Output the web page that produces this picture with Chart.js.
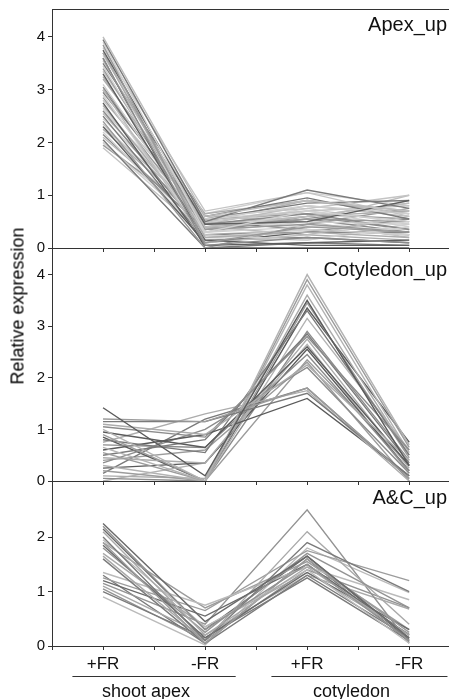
<!DOCTYPE html>
<html lang="en">
<head>
<meta charset="utf-8">
<title>Relative expression</title>
<script src="https://cdn.jsdelivr.net/npm/chart.js@4.4.1/dist/chart.umd.min.js"></script>
<style>
html, body { margin: 0; padding: 0; background: #fff; }
#wrap { position: relative; width: 449px; height: 699px; overflow: hidden; font-family: "Liberation Sans", Arial, sans-serif; }
canvas { position: absolute; left: 0; }
#ylab { position: absolute; left: 18px; top: 306px; transform: translate(-50%, -50%) rotate(-90deg); font-size: 18px; white-space: nowrap; color: #000; }
</style>
</head>
<body>
<div id="wrap">
  <canvas id="c1" width="449" height="260" style="top:0"></canvas>
  <canvas id="c2" width="449" height="245" style="top:248px"></canvas>
  <canvas id="c3" width="449" height="218" style="top:481px"></canvas>
  <div id="ylab">Relative expression</div>
</div>
<script>
// sample positions on the x axis, and their labels
const xPos = [1, 3, 5, 7];
const conditions = ['+FR', '-FR', '+FR', '-FR'];
const groupLabels = ['shoot apex', 'cotyledon'];
const groupSpans = [[0.4, 3.6], [4.3, 7.75]];

// each row: apex +FR, apex -FR, cotyledon +FR, cotyledon -FR
const apexUp = [
  [4.0, 0.6, 0.9, 0.7], [3.95, 0.5, 1.1, 0.75], [3.9, 0.3, 0.7, 0.5], [3.85, 0.1, 0.4, 0.3],
  [3.8, 0.7, 1.05, 0.6], [3.75, 0.45, 0.5, 0.9], [3.7, 0.2, 0.3, 0.2], [3.65, 0.55, 0.8, 0.65],
  [3.6, 0.05, 0.2, 0.1], [3.55, 0.4, 0.6, 0.85], [3.5, 0.6, 0.95, 0.55], [3.45, 0.25, 0.15, 0.4],
  [3.4, 0.35, 0.45, 0.3], [3.35, 0.5, 0.7, 0.8], [3.3, 0.15, 0.05, 0.05], [3.2, 0.65, 0.9, 0.7],
  [3.1, 0.3, 0.5, 0.45], [3.05, 0.45, 0.65, 0.35], [3.0, 0.1, 0.25, 0.6], [2.95, 0.55, 0.85, 0.9],
  [2.9, 0.2, 0.35, 0.25], [2.85, 0.4, 0.55, 0.5], [2.8, 0.6, 0.75, 1.0], [2.75, 0.05, 0.1, 0.15],
  [2.7, 0.35, 0.6, 0.7], [2.65, 0.5, 0.4, 0.35], [2.6, 0.25, 0.3, 0.55], [2.55, 0.45, 0.8, 0.6],
  [2.5, 0.15, 0.2, 0.1], [2.45, 0.55, 0.7, 0.4], [2.4, 0.0, 0.45, 0.75], [2.35, 0.4, 0.5, 0.2],
  [2.3, 0.1, 0.3, 0.3], [2.25, 0.5, 0.9, 0.65], [2.2, 0.2, 0.15, 0.45], [2.15, 0.35, 0.55, 0.3],
  [2.1, 0.45, 0.6, 0.85], [2.05, 0.0, 0.1, 0.05], [2.0, 0.3, 0.4, 0.5], [1.95, 0.55, 0.65, 0.55],
  [1.9, 0.25, 0.35, 0.25], [3.6, 0.0, 0.0, 0.0], [3.25, 0.4, 0.25, 0.15], [2.6, 0.65, 1.05, 0.8],
  [3.7, 0.3, 0.6, 0.35], [2.3, 0.6, 0.5, 1.0], [3.0, 0.5, 0.35, 0.25], [2.0, 0.4, 0.75, 0.45]
];
const cotyledonUp = [
  [1.42, 0.1, 3.5, 0.3], [1.2, 1.15, 1.8, 0.05], [1.15, 1.15, 1.7, 0.1], [1.1, 0.9, 2.25, 0.4],
  [1.05, 0.85, 2.8, 0.6], [1.0, 0.0, 4.0, 0.7], [0.95, 0.65, 2.6, 0.3], [0.9, 0.0, 3.9, 0.65],
  [0.8, 0.55, 3.3, 0.5], [0.75, 1.3, 1.75, 0.0], [0.7, 0.65, 2.45, 0.2], [0.65, 0.0, 3.8, 0.55],
  [0.6, 0.9, 1.6, 0.1], [0.55, 0.0, 3.45, 0.45], [0.5, 0.8, 2.85, 0.35], [0.45, 0.35, 2.75, 0.25],
  [0.35, 1.0, 2.2, 0.15], [0.3, 0.0, 3.15, 0.6], [0.25, 0.35, 2.55, 0.2], [0.2, 0.0, 2.35, 0.3],
  [0.15, 1.2, 1.8, 0.05], [0.1, 0.05, 3.6, 0.5], [0.05, 0.0, 2.9, 0.4], [0.0, 0.35, 2.65, 0.15],
  [0.85, 0.0, 3.35, 0.75], [0.4, 0.6, 2.3, 0.0]
];
const bothUp = [
  [2.25, 0.45, 1.65, 0.15], [2.2, 0.3, 1.5, 0.1], [2.1, 0.2, 1.45, 0.2], [2.0, 0.1, 1.9, 1.0],
  [1.95, 0.35, 1.4, 0.05], [1.9, 0.05, 1.6, 0.25], [1.85, 0.15, 1.35, 0.3], [1.8, 0.25, 1.7, 0.7],
  [1.65, 0.1, 2.1, 0.4], [1.6, 0.05, 1.3, 0.15], [1.35, 0.75, 1.45, 0.85], [1.25, 0.65, 1.75, 1.2],
  [1.2, 0.55, 1.5, 0.2], [1.15, 0.4, 2.5, 0.05], [1.1, 0.2, 1.3, 0.68], [1.0, 0.15, 1.25, 0.1],
  [0.9, 0.02, 1.8, 0.98], [1.9, 0.7, 1.55, 0.3], [2.15, 0.3, 1.65, 0.12], [1.05, 0.1, 1.4, 0.7],
  [1.7, 0.35, 1.35, 0.22], [1.3, 0.05, 1.6, 0.08]
];

const axisColor = '#333';
const textColor = '#111';
const font = 'Liberation Sans';

const panelDecor = {
  id: 'panelDecor',
  afterDraw(chart, args, opts) {
    const ctx = chart.ctx;
    const a = chart.chartArea;
    ctx.save();
    if (opts.topLine) {
      ctx.strokeStyle = axisColor;
      ctx.lineWidth = 1;
      ctx.beginPath();
      ctx.moveTo(a.left, a.top + 0.5);
      ctx.lineTo(a.right, a.top + 0.5);
      ctx.stroke();
    }
    ctx.fillStyle = textColor;
    ctx.font = '20px "' + font + '"';
    ctx.textAlign = 'right';
    ctx.textBaseline = 'middle';
    ctx.fillText(opts.title, a.right - 2, a.top + opts.dy);
    if (opts.groups) {
      const xs = chart.scales.x;
      ctx.strokeStyle = axisColor;
      ctx.font = '18px "' + font + '"';
      ctx.textAlign = 'center';
      groupLabels.forEach((g, i) => {
        const x0 = xs.getPixelForValue(groupSpans[i][0]);
        const x1 = xs.getPixelForValue(groupSpans[i][1]);
        ctx.beginPath();
        ctx.moveTo(x0, a.bottom + 30.5);
        ctx.lineTo(x1, a.bottom + 30.5);
        ctx.stroke();
        ctx.fillText(g, (x0 + x1) / 2 - 8, a.bottom + 46);
      });
    }
    ctx.restore();
  }
};

function makePanel(id, rows, shades, yMax, yTicks, title, dy, padTop, xH, bottom) {
  const datasets = rows.map((r, i) => ({
    data: r.map((v, j) => ({ x: xPos[j], y: v })),
    borderColor: shades[i % shades.length],
    borderWidth: 1.4,
    pointRadius: 0,
    fill: false,
    tension: 0
  }));
  return new Chart(document.getElementById(id), {
    type: 'line',
    data: { datasets: datasets },
    plugins: [panelDecor],
    options: {
      responsive: false,
      animation: false,
      events: [],
      layout: { padding: { top: padTop, left: 0, right: 0, bottom: 0 } },
      plugins: {
        legend: { display: false },
        tooltip: { enabled: false },
        panelDecor: { title: title, dy: dy, topLine: padTop > 0, groups: bottom }
      },
      scales: {
        x: {
          type: 'linear', min: 0, max: 7.78,
          grid: { drawOnChartArea: false, tickLength: 4, color: axisColor },
          border: { color: axisColor },
          ticks: {
            display: bottom, padding: 4, color: textColor, font: { family: font, size: 17 },
            maxRotation: 0, autoSkip: false,
            callback: v => { const k = xPos.indexOf(v); return k < 0 ? '' : conditions[k]; }
          },
          afterBuildTicks: s => { s.ticks = [0, 1, 2, 3, 4, 5, 6, 7].map(v => ({ value: v })); },
          afterFit: s => { s.height = xH; s.paddingLeft = 0; s.paddingRight = 0; }
        },
        y: {
          min: 0, max: yMax,
          grid: { drawOnChartArea: false, tickLength: 4, color: axisColor },
          border: { color: axisColor },
          ticks: { padding: 3, color: textColor, font: { family: font, size: 15 } },
          afterBuildTicks: s => { s.ticks = yTicks.map(v => ({ value: v })); },
          afterFit: s => { s.width = 52; s.paddingTop = 0; s.paddingBottom = 0; }
        }
      }
    }
  });
}

makePanel('c1', apexUp, ['#bdbdbd', '#7a7a7a', '#d0d0d0', '#999999', '#c4c4c4', '#5e5e5e', '#adadad', '#cfcfcf', '#8a8a8a'],
  4.53, [0, 1, 2, 3, 4], 'Apex_up', 16, 9, 12, false);
makePanel('c2', cotyledonUp, ['#5a5a5a', '#9c9c9c', '#7a7a7a', '#acacac', '#8c8c8c', '#b3b3b3'],
  4.515, [0, 1, 2, 3, 4], 'Cotyledon_up', 22, 0, 12, false);
makePanel('c3', bothUp, ['#6a6a6a', '#939393', '#a9a9a9', '#7b7b7b', '#bababa', '#9c9c9c'],
  3.03, [0, 1, 2], 'A&C_up', 17, 0, 53, true);
</script>
</body>
</html>
